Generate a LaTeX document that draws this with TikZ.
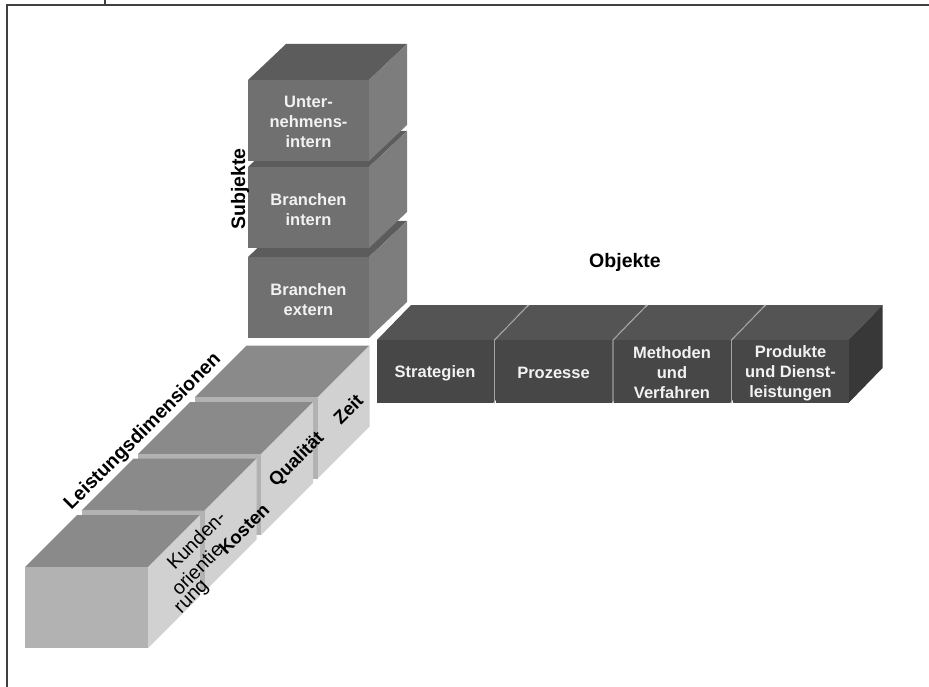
\documentclass[tikz,border=0pt]{standalone}
\usepackage{fontspec}
\setmainfont{Liberation Sans}
\tikzset{
  frameline/.style={draw=black!75, line width=1.4pt},
  % vertical stack (Subjekte)
  vfront/.style={fill=black!56},
  vtop/.style={fill=black!64},
  vside/.style={fill=black!51},
  % horizontal row (Objekte)
  hfront/.style={fill=black!72},
  htop/.style={fill=black!67},
  hside/.style={fill=black!78},
  % diagonal row (Leistungsdimensionen)
  lfront/.style={fill=black!30},
  ltop/.style={fill=black!46},
  lside/.style={fill=black!18},
  seam/.style={draw=black!35, line width=1.2pt},
  boxtext/.style={text=black!5, font=\bfseries\fontsize{16.5}{20}\selectfont, align=center, inner sep=0pt},
  axislabel/.style={text=black, font=\bfseries\fontsize{19.5}{22}\selectfont, inner sep=0pt},
  sidelabel/.style={text=black, font=\bfseries\fontsize{18.5}{20}\selectfont, inner sep=0pt, rotate=45},
  sidelabelreg/.style={text=black, font=\fontsize{19.5}{20}\selectfont, inner sep=0pt, rotate=45},
}
% cube: #1,#2 front top-left corner, #3 width, #4 height,
% #5 depth to the right, #6 depth upwards, #7 style prefix
\newcommand\blockcube[7]{%
  \fill[#7top] (#1,#2) -- ++(#5,-#6) -- ++(#3,0) -- ++(-#5,#6) -- cycle;
  \fill[#7side] (#1+#3,#2) -- ++(#5,-#6) -- ++(0,#4) -- ++(-#5,#6) -- cycle;
  \fill[#7front] (#1,#2) rectangle ++(#3,#4);
}
\begin{document}
\begin{tikzpicture}[x=1pt,y=-1pt]
\useasboundingbox (0,0) rectangle (929,687);
\fill[white] (0,0) rectangle (929,687);

% frame
\draw[frameline] (7,687) -- (7,5) -- (929,5);
\draw[frameline] (105,0) -- (105,5);

% Leistungsdimensionen: row of cubes running into depth, back to front
\foreach \k in {3,2,1,0} {
  \blockcube{25+56.5*\k}{567-56.5*\k}{123}{81}{52}{52}{l}
}

% Subjekte: stacked cubes, bottom to top
\blockcube{248}{257}{121}{81}{38}{36}{v}
\blockcube{248}{167}{121}{81}{38}{36}{v}
\blockcube{248}{80}{121}{81}{38}{36}{v}

% Objekte: row of cubes, left to right
\foreach \k in {0,1,2,3} {
  \blockcube{377+118.5*\k}{340}{116}{63}{34}{35}{h}
}
\foreach \k in {1,2,3} {
  \draw[seam] (376+118.5*\k,403) -- (376+118.5*\k,340) -- ++(34,-35);
}

% texts on the Subjekte cubes
\node[boxtext] (unt) at (308.5,122) {Unter-\\nehmens-\\intern};
\node[boxtext] (bri) at (308.5,210) {Branchen\\intern};
\node[boxtext] (bre) at (308.5,300) {Branchen\\extern};

% texts on the Objekte cubes
\node[boxtext] (str) at (435,373) {Strategien};
\node[boxtext] (pro) at (553.5,373) {Prozesse};
\node[boxtext] (met) at (672,373) {Methoden\\und\\Verfahren};
\node[boxtext] (prd) at (790.5,373) {Produkte\\und Dienst-\\leistungen};

% texts on the Leistungsdimensionen cube sides
\node[sidelabelreg] (ku1) at (196,540) {Kunden-};
\node[sidelabelreg] (ku2) at (197,569) {orientie};
\node[sidelabelreg] (ku3) at (193,598) {rung};
\node[sidelabel] (kos) at (244,529) {Kosten};
\node[sidelabel] (qua) at (297,460) {Qualität};
\node[sidelabel] (zei) at (348,409) {Zeit};

% axis labels
\node[axislabel, rotate=90] (subj) at (240,189) {Subjekte};
\node[axislabel] (obj) at (625,262) {Objekte};
\node[axislabel, rotate=45] (leis) at (143,432) {Leistungsdimensionen};
\end{tikzpicture}
\end{document}
